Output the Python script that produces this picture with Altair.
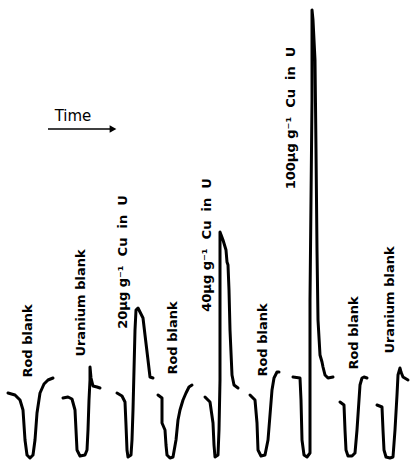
import altair as alt
import pandas as pd

# Recorder traces: time (x) and pen deflection measured downward (y)
rod1_t = [8, 15, 20, 23, 25, 27, 30, 33, 35, 37, 40, 44, 48, 53]
rod1_y = [393, 395, 400, 410, 440, 455, 458, 455, 440, 413, 393, 384, 380, 378]

ura1_t = [63, 68, 72, 75, 76, 77, 80, 85, 87, 88, 89, 90, 90, 91, 93, 97, 100]
ura1_y = [398, 397, 399, 410, 430, 450, 456, 455, 450, 430, 400, 380, 367, 378, 386, 387, 388]

cu20_t = [117, 122, 125, 126, 127, 128, 131, 132, 133, 134, 135, 136, 138, 141, 143, 145, 148, 150, 153]
cu20_y = [393, 396, 402, 425, 450, 457, 455, 440, 410, 370, 330, 310, 308, 314, 318, 335, 360, 377, 378]

rod2_t = [158, 162, 162, 165, 166, 167, 170, 173, 176, 178, 180, 183, 186, 189, 192]
rod2_y = [395, 398, 423, 430, 445, 455, 458, 457, 440, 420, 410, 400, 393, 387, 385]

cu40_t = [205, 210, 213, 214, 215, 218, 219, 220, 220, 220, 220, 223, 226, 227, 228, 229, 230, 232, 234, 238]
cu40_y = [397, 402, 423, 445, 457, 455, 430, 380, 320, 260, 232, 240, 250, 262, 265, 290, 330, 375, 385, 388]

rod3_t = [250, 255, 257, 258, 261, 265, 268, 270, 272, 274, 277, 279]
rod3_y = [395, 400, 423, 450, 456, 455, 440, 415, 390, 378, 372, 372]

cu100_t = [293, 300, 301, 302, 304, 307, 310, 310, 310, 311, 312, 312, 312, 313, 315, 316, 317, 318, 320, 322, 323, 325, 328, 333]
cu100_y = [377, 378, 400, 440, 455, 457, 453, 400, 300, 200, 100, 30, 10, 20, 60, 150, 250, 320, 355, 362, 367, 375, 378, 377]

rod4_t = [340, 344, 345, 346, 348, 352, 355, 357, 359, 360, 362, 364, 367]
rod4_y = [402, 405, 430, 450, 456, 456, 453, 430, 400, 385, 378, 377, 378]

ura2_t = [377, 382, 383, 384, 386, 390, 393, 395, 397, 398, 400, 401, 403, 408]
ura2_y = [405, 407, 430, 450, 457, 458, 457, 430, 395, 375, 368, 372, 377, 380]

NB = "\u00a0"
label_text = ["Rod" + NB + "blank", "Uranium" + NB + "blank",
              "20\u03bcg" + NB + "g\u207b\u00b9" + NB + NB + "Cu" + NB + NB + "in" + NB + NB + "U",
              "Rod" + NB + "blank",
              "40\u03bcg" + NB + "g\u207b\u00b9" + NB + NB + "Cu" + NB + NB + "in" + NB + NB + "U",
              "Rod" + NB + "blank",
              "100\u03bcg" + NB + "g\u207b\u00b9" + NB + NB + "Cu" + NB + NB + "in" + NB + NB + "U",
              "Rod" + NB + "blank", "Uranium" + NB + "blank"]
label_t = [28, 81, 123, 173, 207, 263, 291, 354, 390]
label_y = [341, 303, 262, 338, 245, 340, 118, 333, 300]

arrow_t = [48, 113]
arrow_y = [129, 129]
time_label = "Time"
time_t = [73]
time_y = [116]

traces = [
    ("rod1", rod1_t, rod1_y), ("ura1", ura1_t, ura1_y), ("cu20", cu20_t, cu20_y),
    ("rod2", rod2_t, rod2_y), ("cu40", cu40_t, cu40_y), ("rod3", rod3_t, rod3_y),
    ("cu100", cu100_t, cu100_y), ("rod4", rod4_t, rod4_y), ("ura2", ura2_t, ura2_y),
]
rows = []
for name, ts, ys in traces:
    for i, (t, y) in enumerate(zip(ts, ys)):
        rows.append({"trace": name, "i": i, "t": t, "y": y})
df = pd.DataFrame(rows)

xs = alt.Scale(domain=[0, 411], nice=False, zero=False)
ys = alt.Scale(domain=[0, 461], nice=False, zero=False, reverse=True)
X = lambda f: alt.X(f, type="quantitative", scale=xs, axis=None)
Y = lambda f: alt.Y(f, type="quantitative", scale=ys, axis=None)

lines = alt.Chart(df).mark_line(color="black", strokeWidth=3, strokeJoin="round", strokeCap="round").encode(
    x=X("t"), y=Y("y"), detail="trace:N", order="i:Q"
)

labels_df = pd.DataFrame({"text": label_text, "t": label_t, "y": label_y})
labels = alt.Chart(labels_df).mark_text(
    angle=270, align="center", baseline="middle", font="DejaVu Sans", fontSize=13,
    fontWeight="bold", color="black"
).encode(x=X("t"), y=Y("y"), text="text:N")

arrow_df = pd.DataFrame({"t": arrow_t, "y": arrow_y, "i": [0, 1]})
arrow = alt.Chart(arrow_df).mark_line(color="black", strokeWidth=1.6).encode(
    x=X("t"), y=Y("y"), order="i:Q"
)
head = alt.Chart(arrow_df.iloc[[1]]).mark_point(
    shape="triangle-right", filled=True, color="black", size=60, opacity=1
).encode(x=X("t"), y=Y("y"))

time_df = pd.DataFrame({"text": [time_label], "t": time_t, "y": time_y})
time_txt = alt.Chart(time_df).mark_text(
    align="center", baseline="middle", font="DejaVu Sans", fontSize=15, color="black"
).encode(x=X("t"), y=Y("y"), text="text:N")

chart = alt.layer(lines, arrow, head, labels, time_txt).properties(
    width=411, height=461, autosize=alt.AutoSizeParams(type="none"), padding=0,
    background="white"
).configure_view(stroke=None)

chart.save("out.html", embed_options={"renderer": "svg", "actions": False})
